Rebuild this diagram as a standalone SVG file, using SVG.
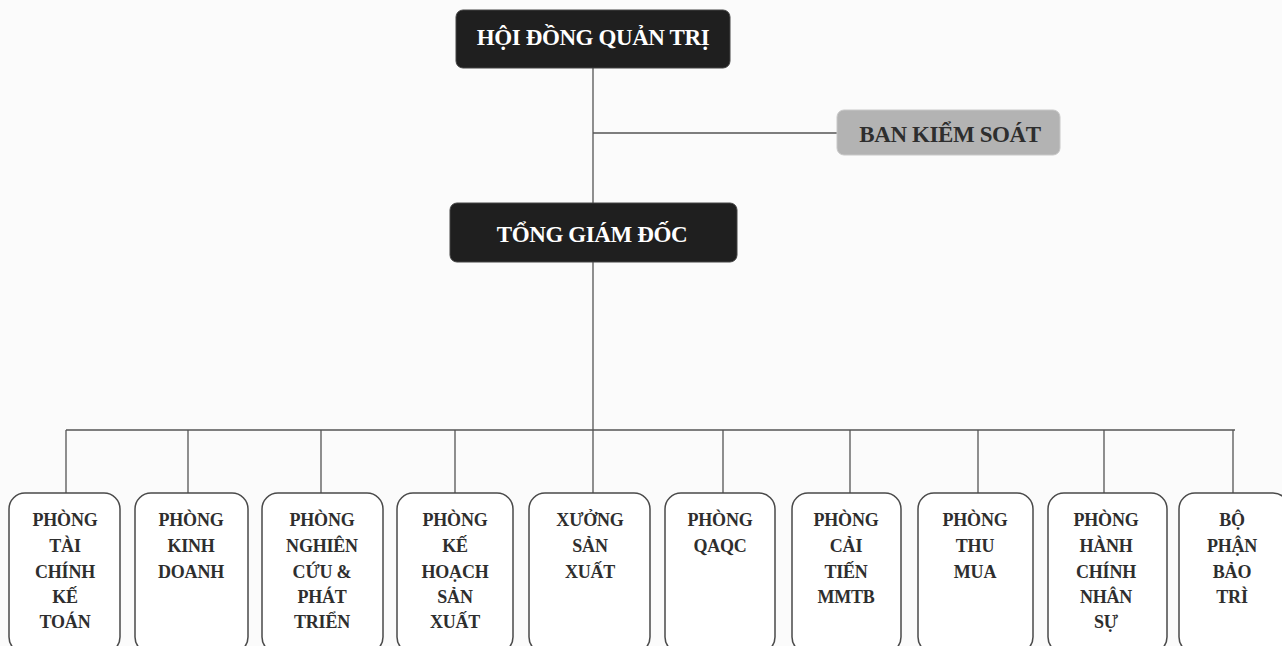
<svg xmlns="http://www.w3.org/2000/svg" width="1282" height="646" viewBox="0 0 1282 646">
<style>
.dark{fill:#1f1f1f;stroke:#444;stroke-width:1}
.gray{fill:#b3b3b3;stroke:#c8c8c8;stroke-width:1}
.dept{fill:#fff;stroke:#4a4a4a;stroke-width:1.5}
.wt{font-family:"Liberation Serif",serif;font-weight:bold;fill:#fff;text-anchor:middle;letter-spacing:-0.4px}
.bt{font-family:"Liberation Serif",serif;font-weight:bold;fill:#2e2e2e;text-anchor:middle;letter-spacing:-0.4px}
.dt{font-family:"Liberation Serif",serif;font-weight:bold;fill:#2e2e2e;text-anchor:middle;font-size:18px;letter-spacing:-0.2px}
.ln{stroke:#555;stroke-width:1.3;fill:none}
</style>
<rect width="1282" height="646" fill="#fbfbfb"/>
<g id="connectors">
<path class="ln" d="M593 68 V203 M593 262 V430 M593 133 H837 M66 430 H1235"/>
<path class="ln" d="M66 430 V493 M188 430 V493 M321 430 V493 M455 430 V493 M593 430 V493 M723 430 V493 M850 430 V493 M978 430 V493 M1104 430 V493 M1233 430 V493"/>
</g>
<g id="hdqt"><rect class="dark" x="456" y="10" width="274" height="58" rx="7"/><text class="wt" x="593" y="45" font-size="23">HỘI ĐỒNG QUẢN TRỊ</text></g>
<g id="bks"><rect class="gray" x="837" y="110" width="223" height="45" rx="7"/><text class="bt" x="950" y="142" font-size="23">BAN KIỂM SOÁT</text></g>
<g id="tgd"><rect class="dark" x="450" y="203" width="287" height="59" rx="7"/><text class="wt" x="592" y="242" font-size="23">TỔNG GIÁM ĐỐC</text></g>
<g id="d1"><rect class="dept" x="9" y="493" width="111" height="160" rx="16"/><text class="dt"><tspan x="65" y="526">PHÒNG</tspan><tspan x="65" y="552">TÀI</tspan><tspan x="65" y="578">CHÍNH</tspan><tspan x="65" y="603">KẾ</tspan><tspan x="65" y="628">TOÁN</tspan></text></g>
<g id="d2"><rect class="dept" x="135" y="493" width="113" height="160" rx="16"/><text class="dt"><tspan x="191" y="526">PHÒNG</tspan><tspan x="191" y="552">KINH</tspan><tspan x="191" y="578">DOANH</tspan></text></g>
<g id="d3"><rect class="dept" x="262" y="493" width="121" height="160" rx="16"/><text class="dt"><tspan x="322" y="526">PHÒNG</tspan><tspan x="322" y="552">NGHIÊN</tspan><tspan x="322" y="578">CỨU &amp;</tspan><tspan x="322" y="603">PHÁT</tspan><tspan x="322" y="628">TRIỂN</tspan></text></g>
<g id="d4"><rect class="dept" x="397" y="493" width="116" height="160" rx="16"/><text class="dt"><tspan x="455" y="526">PHÒNG</tspan><tspan x="455" y="552">KẾ</tspan><tspan x="455" y="578">HOẠCH</tspan><tspan x="455" y="603">SẢN</tspan><tspan x="455" y="628">XUẤT</tspan></text></g>
<g id="d5"><rect class="dept" x="529" y="493" width="121" height="160" rx="16"/><text class="dt"><tspan x="590" y="526">XƯỞNG</tspan><tspan x="590" y="552">SẢN</tspan><tspan x="590" y="578">XUẤT</tspan></text></g>
<g id="d6"><rect class="dept" x="665" y="493" width="110" height="160" rx="16"/><text class="dt"><tspan x="720" y="526">PHÒNG</tspan><tspan x="720" y="552">QAQC</tspan></text></g>
<g id="d7"><rect class="dept" x="792" y="493" width="109" height="160" rx="16"/><text class="dt"><tspan x="846" y="526">PHÒNG</tspan><tspan x="846" y="552">CẢI</tspan><tspan x="846" y="578">TIẾN</tspan><tspan x="846" y="603">MMTB</tspan></text></g>
<g id="d8"><rect class="dept" x="918" y="493" width="115" height="160" rx="16"/><text class="dt"><tspan x="975" y="526">PHÒNG</tspan><tspan x="975" y="552">THU</tspan><tspan x="975" y="578">MUA</tspan></text></g>
<g id="d9"><rect class="dept" x="1048" y="493" width="119" height="160" rx="16"/><text class="dt"><tspan x="1106" y="526">PHÒNG</tspan><tspan x="1106" y="552">HÀNH</tspan><tspan x="1106" y="578">CHÍNH</tspan><tspan x="1106" y="603">NHÂN</tspan><tspan x="1106" y="628">SỰ</tspan></text></g>
<g id="d10"><rect class="dept" x="1179" y="493" width="110" height="160" rx="16"/><text class="dt"><tspan x="1232" y="526">BỘ</tspan><tspan x="1232" y="552">PHẬN</tspan><tspan x="1232" y="578">BẢO</tspan><tspan x="1232" y="603">TRÌ</tspan></text></g>
</svg>
